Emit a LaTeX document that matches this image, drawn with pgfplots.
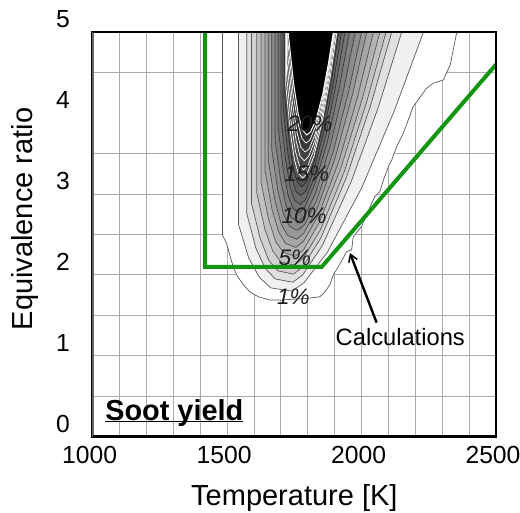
\documentclass[border=0pt]{standalone}
\usepackage{fontspec}
\setmainfont{Liberation Sans}
\usepackage{pgfplots}
\pgfplotsset{compat=1.18}
\usetikzlibrary{arrows.meta}
\definecolor{calcgreen}{HTML}{129612}

\begin{document}
\begin{tikzpicture}
\begin{axis}[
  at={(0pt,0pt)}, anchor=south west,
  scale only axis, width=403.3pt, height=404.4pt,
  xmin=1000, xmax=2500, ymin=0, ymax=5,
  xtick={1000,1500,2000,2500}, ytick={0,1,2,3,4,5},
  minor xtick={1100,1200,1300,1400,1600,1700,1800,1900,2100,2200,2300,2400},
  minor ytick={0.5,1,1.5,2,2.5,3,3.5,4.5},
  xmajorgrids, xminorgrids, yminorgrids,
  major grid style={black!33, line width=0.9pt},
  minor grid style={black!33, line width=0.9pt},
  major tick length=0pt, minor tick length=0pt,
  axis line style={black, line width=2.4pt},
  /pgf/number format/assume math mode=true,
  /pgf/number format/1000 sep={},
  tick label style={font=\fontsize{24.7}{28}\selectfont},
  xticklabel style={anchor=base, yshift=-26.6pt, xshift=-3pt},
  yticklabel style={anchor=east, inner sep=0pt, xshift=-22.7pt, yshift=13pt},
  xlabel={Temperature [K]}, ylabel={Equivalence ratio},
  label style={font=\fontsize{29}{34}\selectfont},
  xlabel style={at={([yshift=-69pt]axis description cs:0.5,0)}, anchor=base},
  ylabel style={at={([xshift=-60.5pt,yshift=15.5pt]axis description cs:0,0.5)}, anchor=base},
  every axis plot/.append style={line join=round},
]
% soot yield contours, outermost first
\addplot[fill=white, draw=black!65, line width=0.7pt] coordinates {(1483,5) (1483,2.49) (1498,2.39) (1511,2.23) (1523,2.10) (1535,2.0) (1560,1.88) (1585,1.79) (1616,1.73) (1659,1.69) (1697,1.69) (1796,1.71) (1845,1.73) (1864,1.79) (1882,1.88) (1895,2.0) (1913,2.10) (1932,2.21) (1945,2.29) (1963,2.31) (1969,2.47) (2000,2.60) (2013,2.70) (2038,2.89) (2050,2.97) (2068,3.03) (2081,3.17) (2100,3.34) (2112,3.42) (2131,3.59) (2155,3.75) (2192,4.08) (2242,4.31) (2267,4.37) (2304,4.41) (2330,4.6) (2354,5)};
\addplot[fill=black!6, draw=black!65, line width=0.7pt] coordinates {(1542,5) (1542,2.63) (1580,2.21) (1620,1.97) (1662,1.84) (1741,1.80) (1785,1.90) (1873,2.28) (2001,3.08) (2123,4.04) (2230,5)};
\addplot[fill=black!12, draw=black!65, line width=0.7pt] coordinates {(1573,5) (1573,2.76) (1607,2.33) (1642,2.08) (1679,1.95) (1744,1.91) (1781,2.00) (1855,2.37) (1961,3.15) (2062,4.07) (2149,5)};
\addplot[fill=black!18, draw=black!65, line width=0.7pt] coordinates {(1591,5) (1591,2.88) (1623,2.45) (1655,2.18) (1689,2.05) (1747,2.01) (1781,2.10) (1849,2.46) (1944,3.21) (2034,4.10) (2112,5)};
\addplot[fill=black!24, draw=black!65, line width=0.7pt] coordinates {(1610,5) (1610,3.02) (1640,2.57) (1669,2.30) (1700,2.16) (1750,2.12) (1783,2.21) (1846,2.55) (1935,3.27) (2019,4.14) (2091,5)};
\addplot[fill=black!30, draw=black!65, line width=0.7pt] coordinates {(1626,5) (1626,3.15) (1654,2.69) (1681,2.41) (1709,2.28) (1753,2.23) (1784,2.31) (1843,2.65) (1925,3.34) (2002,4.17) (2068,5)};
\addplot[fill=black!35, draw=black!68, line width=0.7pt] coordinates {(1641,5) (1641,3.29) (1667,2.81) (1692,2.53) (1717,2.39) (1756,2.34) (1785,2.42) (1840,2.74) (1915,3.40) (1985,4.20) (2044,5)};
\addplot[fill=black!40, draw=black!70, line width=0.7pt] coordinates {(1653,5) (1653,3.41) (1677,2.93) (1701,2.63) (1724,2.49) (1759,2.44) (1786,2.52) (1835,2.82) (1903,3.46) (1966,4.23) (2019,5)};
\addplot[fill=black!45, draw=black!72, line width=0.7pt] coordinates {(1666,5) (1666,3.55) (1688,3.05) (1710,2.75) (1732,2.60) (1762,2.55) (1788,2.62) (1833,2.92) (1895,3.53) (1952,4.27) (2000,5)};
\addplot[fill=black!50, draw=black!75, line width=0.7pt] coordinates {(1678,5) (1678,3.68) (1699,3.17) (1719,2.86) (1738,2.71) (1765,2.66) (1788,2.73) (1829,3.01) (1884,3.60) (1934,4.30) (1976,5)};
\addplot[fill=black!54, draw=black!78, line width=0.7pt] coordinates {(1690,5) (1690,3.82) (1709,3.29) (1727,2.98) (1745,2.82) (1768,2.77) (1789,2.84) (1826,3.12) (1874,3.66) (1918,4.33) (1955,5)};
\addplot[fill=black!58, draw=black!80, line width=0.7pt] coordinates {(1700,5) (1700,3.94) (1718,3.41) (1735,3.08) (1751,2.92) (1772,2.87) (1791,2.93) (1824,3.20) (1867,3.72) (1905,4.36) (1938,5)};
\addplot[fill=black!62, draw=black!82, line width=0.7pt] coordinates {(1708,5) (1708,4.08) (1725,3.53) (1741,3.20) (1756,3.03) (1775,2.98) (1793,3.04) (1823,3.30) (1861,3.79) (1896,4.39) (1925,5)};
\addplot[fill=black!66, draw=black!85, line width=0.7pt] coordinates {(1714,5) (1714,4.21) (1731,3.65) (1746,3.31) (1761,3.15) (1778,3.09) (1795,3.15) (1822,3.38) (1857,3.85) (1889,4.43) (1915,5)};
\addplot[fill=black!69, draw=white, line width=0.7pt] coordinates {(1718,5) (1718,4.35) (1735,3.77) (1750,3.43) (1764,3.26) (1781,3.20) (1797,3.25) (1823,3.47) (1855,3.92) (1884,4.46) (1908,5)};
\addplot[fill=black!72, draw=white, line width=0.7pt] coordinates {(1721,5) (1721,4.47) (1738,3.89) (1754,3.53) (1768,3.36) (1784,3.30) (1800,3.35) (1824,3.56) (1854,3.98) (1881,4.49) (1903,5)};
\addplot[fill=black!75, draw=white, line width=0.7pt] coordinates {(1723,5) (1723,4.61) (1741,4.01) (1757,3.65) (1771,3.47) (1787,3.41) (1802,3.46) (1825,3.65) (1854,4.05) (1879,4.52) (1900,5)};
\addplot[fill=black!78, draw=white, line width=0.7pt] coordinates {(1725,5) (1725,4.74) (1743,4.13) (1760,3.76) (1774,3.58) (1790,3.52) (1805,3.56) (1827,3.74) (1854,4.11) (1878,4.56) (1898,5)};
\addplot[fill=black!81, draw=white, line width=0.7pt] coordinates {(1726,5) (1726,4.88) (1745,4.25) (1763,3.88) (1778,3.69) (1793,3.63) (1808,3.67) (1829,3.84) (1855,4.18) (1877,4.59) (1896,5)};
\addplot[fill=black, draw=white, line width=1pt] coordinates {(1727,5) (1747,4.37) (1765,3.98) (1781,3.79) (1796,3.73) (1810,3.77) (1831,3.92) (1856,4.24) (1877,4.62) (1895,5)};

% contour labels
\begin{scope}[every node/.style={font=\itshape\fontsize{22.5}{26}\selectfont, text=black!88, inner sep=0pt}]
\node at (axis cs:1746,1.73) {1\%};
\node at (axis cs:1752,2.21) {5\%};
\node at (axis cs:1786,2.73) {10\%};
\node at (axis cs:1796,3.25) {15\%};
\node at (axis cs:1808,3.87) {20\%};
\end{scope}

% calculated boundary
\addplot[color=calcgreen, line width=4pt, line join=miter] coordinates {(1418,5.1) (1418,2.10) (1852,2.10) (2510,4.64)};

\draw[line width=2.4pt, -{Straight Barb[length=7pt,width=9pt,line width=1.6pt]}] (axis cs:2056,1.41) -- (axis cs:1957,2.27);
\node[font=\fontsize{23.7}{27}\selectfont] at (axis cs:2144,1.236) {Calculations};
\node[anchor=base west, inner sep=0pt, font=\bfseries\fontsize{28.9}{33}\selectfont] at (axis cs:1046,0.206) {\underline{\smash{Soot yield}}};
\end{axis}
\draw[black!60, line width=2pt] (current axis.south west) -- (current axis.north west);
\draw[black, line width=2.4pt] (current axis.north west) -- (current axis.north east) -- (current axis.south east) -- (current axis.south west);
\pgfresetboundingbox
\path[use as bounding box] (-92.7pt,-76.3pt) rectangle (427.3pt,436.7pt);
\end{tikzpicture}
\end{document}
